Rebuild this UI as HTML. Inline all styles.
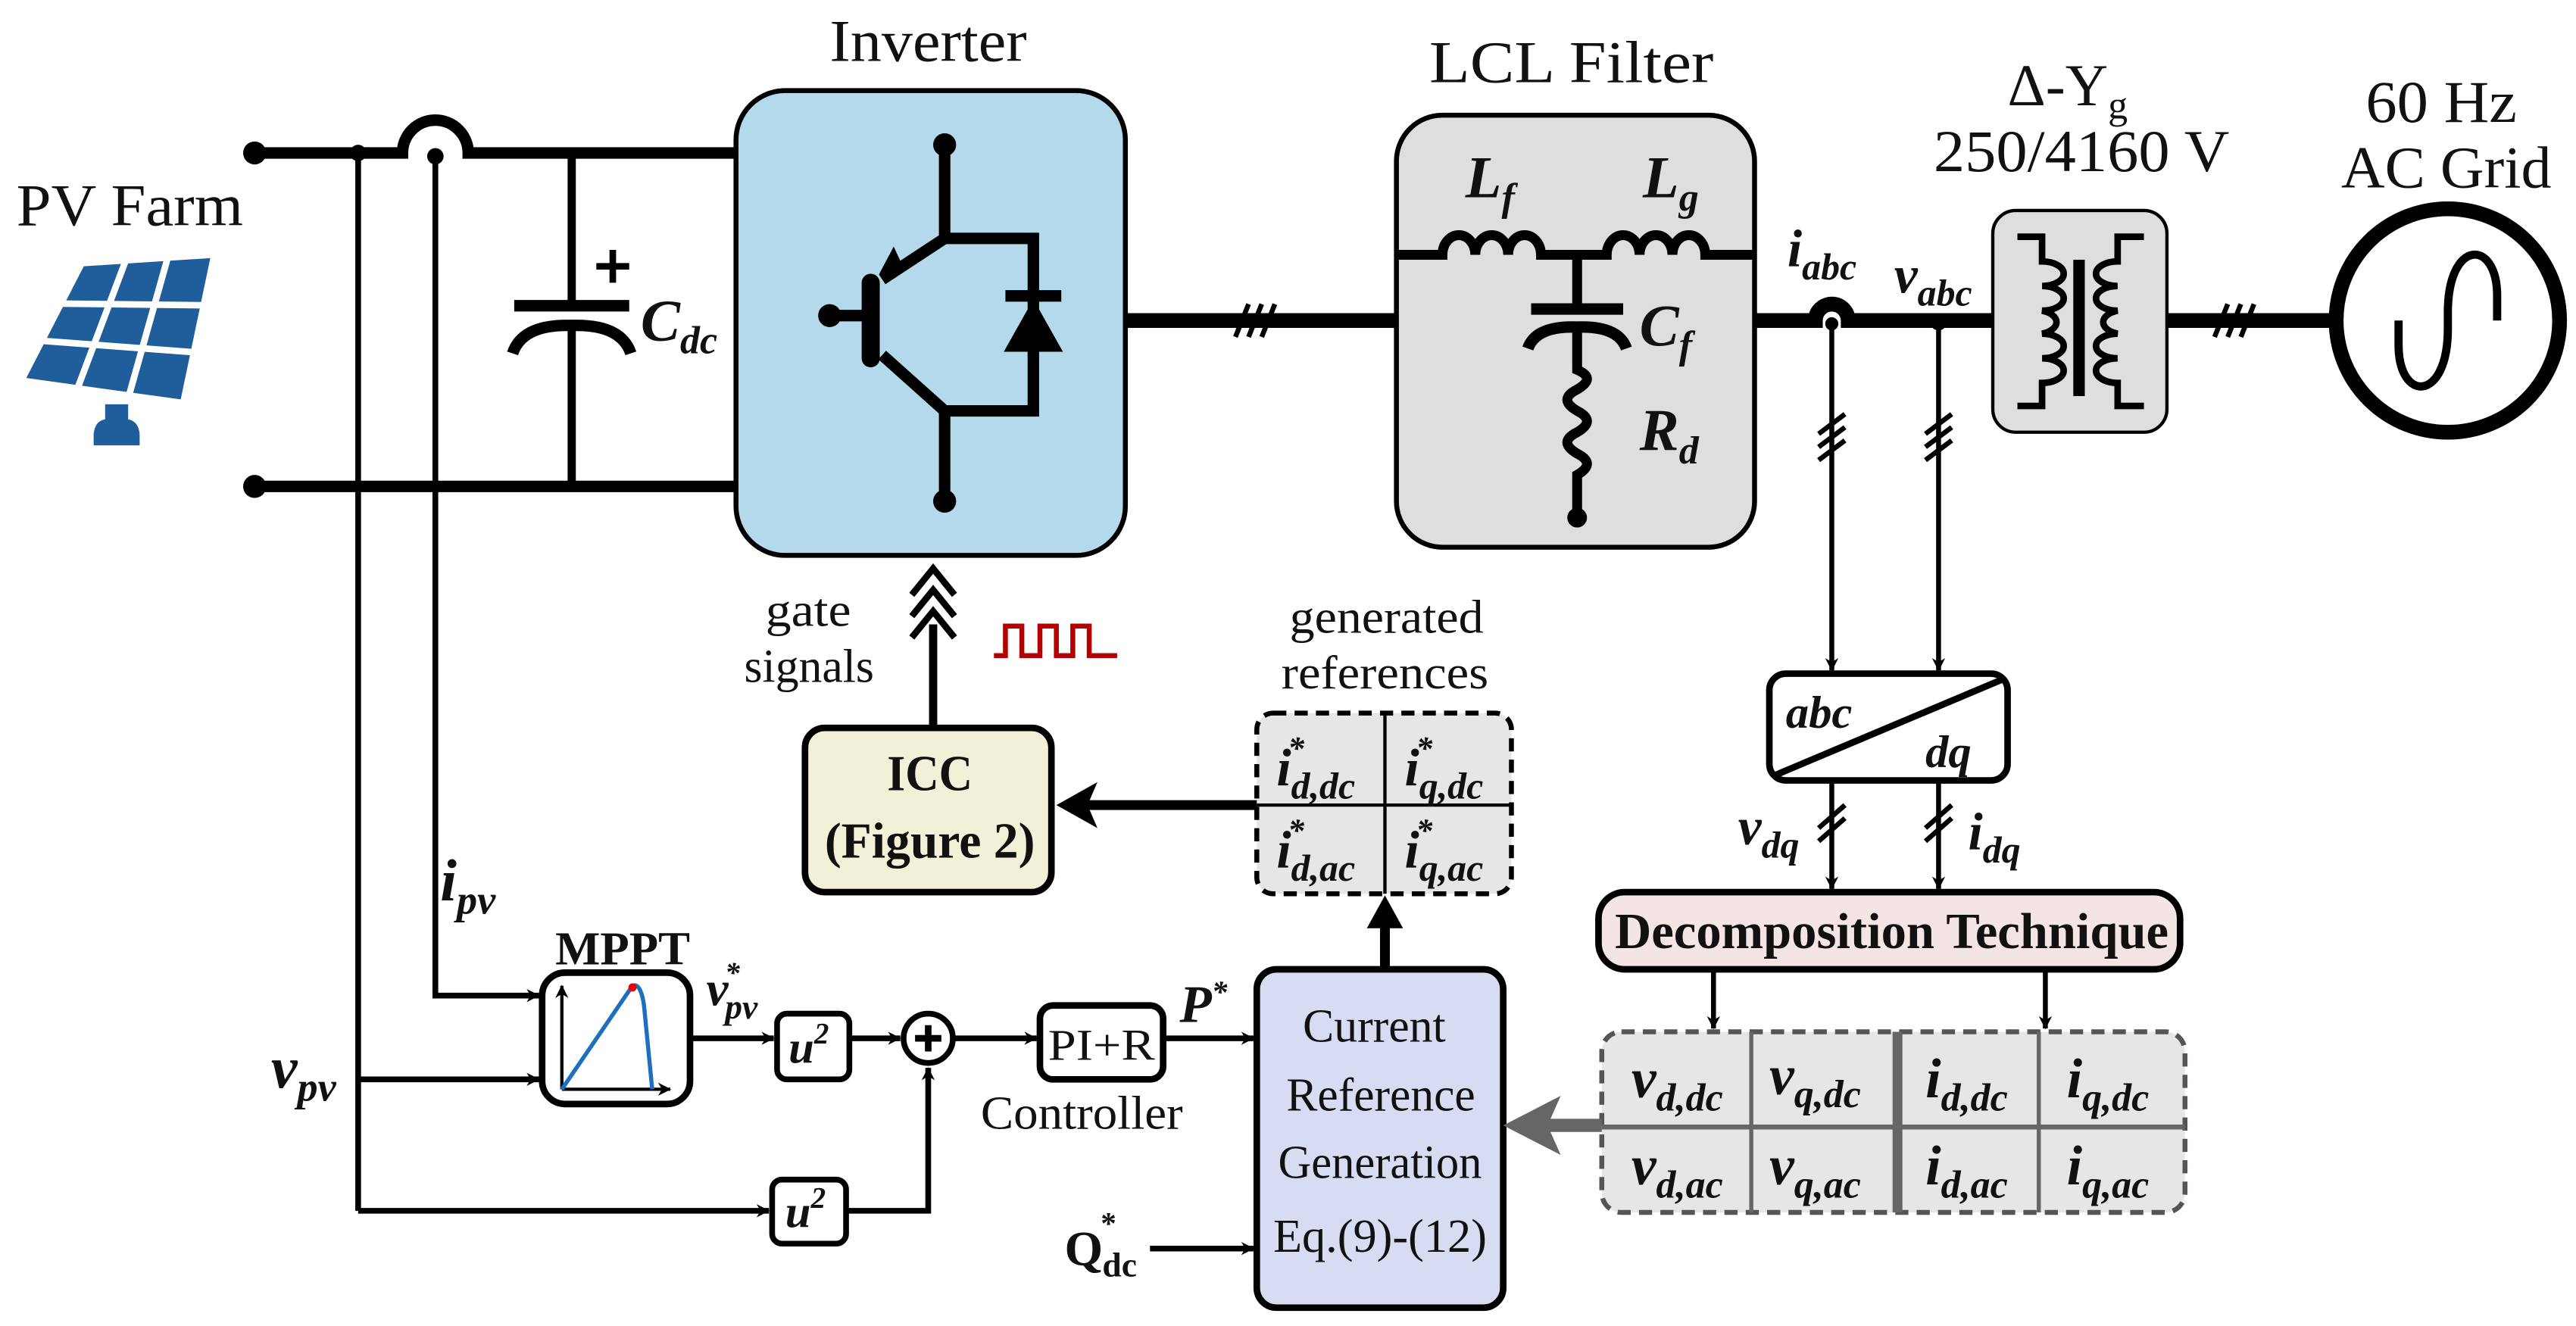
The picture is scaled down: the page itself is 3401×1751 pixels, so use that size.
<!DOCTYPE html>
<html><head><meta charset="utf-8"><style>
html,body{margin:0;padding:0;background:#fff;}
svg{display:block;}
text{font-family:"Liberation Serif","Times New Roman",serif;fill:#111;}
.bi{font-weight:bold;font-style:italic;}
.b{font-weight:bold;}
</style></head><body>
<svg width="3401" height="1751" viewBox="0 0 1568 807" xmlns="http://www.w3.org/2000/svg" font-family="Liberation Serif, serif">
<defs>
<marker id="a" viewBox="0 0 10 10" refX="9" refY="5" markerWidth="5" markerHeight="5" orient="auto" markerUnits="userSpaceOnUse" style="overflow:visible">
<path d="M0,0 L10,5 L0,10 L3,5 z" fill="#000" transform="scale(1.6) translate(-3.7,-1.9)"/>
</marker>
</defs>
<!-- PV panel -->
<polygon points="51,162 128,157 110,243 16,230" fill="#1f5e9a"/>
<g stroke="#fff" stroke-width="4">
<line x1="76.7" y1="158" x2="47.3" y2="236"/><line x1="102.3" y1="156" x2="78.7" y2="240"/>
<line x1="37" y1="184.7" x2="124" y2="185.7"/><line x1="25" y1="207.3" x2="118" y2="214.3"/>
</g>
<rect x="64" y="246" width="14" height="12" fill="#1f5e9a"/>
<path d="M57,271 L85,271 L85,264 Q84,255 76,255 L66,255 Q58,255 57,264 z" fill="#1f5e9a"/>
<text x="10" y="137" font-size="36" textLength="138" lengthAdjust="spacingAndGlyphs">PV Farm</text>

<!-- DC rails -->
<g stroke="#000" fill="none">
<path d="M155,93 L245,93 A20,20 0 0 1 285,93 L448,93" stroke-width="7"/>
<line x1="155" y1="296" x2="448" y2="296" stroke-width="7"/>
<line x1="218" y1="93" x2="218" y2="737" stroke-width="3.5"/>
<path d="M265,93 L265,606 L328,606" stroke-width="3.5" marker-end="url(#a)"/>
<line x1="348" y1="93" x2="348" y2="186" stroke-width="5"/>
<line x1="348" y1="200" x2="348" y2="296" stroke-width="5"/>
<line x1="313" y1="186" x2="383" y2="186" stroke-width="7"/>
<path d="M312,215 Q318,197 348,198 Q378,197 384,215" stroke-width="7"/>
<line x1="373" y1="152" x2="373" y2="172" stroke-width="4"/><line x1="363" y1="162" x2="383" y2="162" stroke-width="4"/>
</g>
<circle cx="155" cy="93" r="7"/><circle cx="155" cy="296" r="7"/><circle cx="218" cy="93" r="5"/><circle cx="265" cy="95" r="5"/>
<text x="390" y="207" font-size="36" class="bi">C<tspan dy="8" font-size="24">dc</tspan></text>

<!-- Inverter -->
<text x="505" y="37" font-size="36" textLength="120" lengthAdjust="spacingAndGlyphs">Inverter</text>
<rect x="448" y="55" width="237" height="283" rx="30" fill="#b4d9eb" stroke="#000" stroke-width="3"/>
<g stroke="#000" fill="none" stroke-width="7">
<line x1="575" y1="88" x2="575" y2="145"/>
<path d="M575,145 L629,145 L629,250 L575,250 L575,305"/>
<line x1="575" y1="145" x2="537" y2="170"/>
<line x1="537" y1="216" x2="575" y2="250"/>
<line x1="505" y1="192" x2="525" y2="192"/>
<line x1="612" y1="180" x2="646" y2="180"/>
</g>
<line x1="530" y1="172" x2="530" y2="218" stroke="#000" stroke-width="11" stroke-linecap="round"/>
<polygon points="535,167 544,150 550,163" fill="#000"/>
<polygon points="629,182 611,214 647,214" fill="#000"/>
<circle cx="575" cy="88" r="7"/><circle cx="575" cy="305" r="7"/><circle cx="505" cy="192" r="7"/>
<line x1="685" y1="195" x2="850" y2="195" stroke="#000" stroke-width="9"/>
<g stroke="#000" stroke-width="3"><line x1="752" y1="205" x2="760" y2="185"/><line x1="760" y1="205" x2="768" y2="185"/><line x1="768" y1="205" x2="776" y2="185"/></g>

<!-- LCL -->
<text x="870" y="50" font-size="36" textLength="173" lengthAdjust="spacingAndGlyphs">LCL Filter</text>
<rect x="850" y="70" width="218" height="263" rx="28" fill="#dedede" stroke="#000" stroke-width="3"/>
<g stroke="#000" fill="none" stroke-width="6">
<path d="M850,155 L878,155 A10,12 0 0 1 898,155 A10,12 0 0 1 918,155 A10,12 0 0 1 938,155 L978,155 A10,12 0 0 1 998,155 A10,12 0 0 1 1018,155 A10,12 0 0 1 1038,155 L1068,155"/>
<line x1="960" y1="155" x2="960" y2="185"/>
<line x1="932" y1="188" x2="988" y2="188" stroke-width="7"/>
<path d="M930,212 Q935,198 960,199 Q985,198 990,212" stroke-width="7"/>
<path d="M960,200 L960,225 Q972,230 960,237 Q948,243 960,250 Q972,256 960,263 Q948,269 960,276 Q972,282 960,289 L960,315"/>
</g>
<circle cx="960" cy="315" r="6"/>
<text x="892" y="120" font-size="36" class="bi">L<tspan dy="8" font-size="24">f</tspan></text>
<text x="1000" y="120" font-size="36" class="bi">L<tspan dy="8" font-size="24">g</tspan></text>
<text x="998" y="210" font-size="36" class="bi">C<tspan dy="8" font-size="24">f</tspan></text>
<text x="998" y="274" font-size="36" class="bi">R<tspan dy="8" font-size="24">d</tspan></text>

<!-- AC side -->
<path d="M1068,195 L1105,195 A10,10 0 0 1 1125,195 L1213,195" stroke="#000" stroke-width="9" fill="none"/>
<circle cx="1180" cy="196" r="5"/><circle cx="1115" cy="197" r="4"/>
<text x="1088" y="162" font-size="32" class="bi">i<tspan dy="8" font-size="23">abc</tspan></text>
<text x="1153" y="178" font-size="32" class="bi">v<tspan dy="8" font-size="23">abc</tspan></text>
<g stroke="#000" stroke-width="3" fill="none">
<line x1="1115" y1="197" x2="1115" y2="408" marker-end="url(#a)"/>
<line x1="1180" y1="196" x2="1180" y2="408" marker-end="url(#a)"/>
<line x1="1107" y1="264" x2="1123" y2="252"/><line x1="1107" y1="272" x2="1123" y2="260"/><line x1="1107" y1="280" x2="1123" y2="268"/>
<line x1="1172" y1="264" x2="1188" y2="252"/><line x1="1172" y1="272" x2="1188" y2="260"/><line x1="1172" y1="280" x2="1188" y2="268"/>
</g>
<text x="1222" y="64" font-size="36">Δ-Y<tspan dy="8" font-size="24">g</tspan></text>
<text x="1177" y="104" font-size="36" textLength="180" lengthAdjust="spacingAndGlyphs">250/4160 V</text>
<rect x="1213" y="128" width="106" height="135" rx="14" fill="#dedede" stroke="#000" stroke-width="2"/>
<g stroke="#000" fill="none" stroke-width="4">
<path d="M1228,144 L1243,144 L1243,159 A13,7.4 0 0 1 1243,174 A13,7.4 0 0 1 1243,189 A13,7.4 0 0 1 1243,203 A13,7.4 0 0 1 1243,218 A13,7.4 0 0 1 1243,233 L1243,247 L1228,247"/>
<path d="M1305,144 L1289,144 L1289,159 A13,7.4 0 0 0 1289,174 A13,7.4 0 0 0 1289,189 A13,7.4 0 0 0 1289,203 A13,7.4 0 0 0 1289,218 A13,7.4 0 0 0 1289,233 L1289,247 L1305,247"/>
</g>
<rect x="1262" y="158" width="7" height="83" fill="#000"/>
<line x1="1319" y1="195" x2="1422" y2="195" stroke="#000" stroke-width="9"/>
<g stroke="#000" stroke-width="3"><line x1="1348" y1="205" x2="1356" y2="185"/><line x1="1356" y1="205" x2="1364" y2="185"/><line x1="1364" y1="205" x2="1372" y2="185"/></g>
<circle cx="1490" cy="195" r="68" fill="none" stroke="#000" stroke-width="9"/>
<path d="M1460,195 L1460,210 C1460,245 1490,245 1490,200 L1490,190 C1490,145 1520,145 1520,180 L1520,195" stroke="#000" stroke-width="5" fill="none"/>
<text x="1440" y="74" font-size="36" textLength="92" lengthAdjust="spacingAndGlyphs">60 Hz</text>
<text x="1425" y="114" font-size="36" textLength="128" lengthAdjust="spacingAndGlyphs">AC Grid</text>

<!-- gate -->
<g stroke="#000" fill="none" stroke-width="4">
<line x1="568" y1="380" x2="568" y2="443" stroke-width="5"/>
<path d="M555,362 L568,346 L581,362 M555,375 L568,359 L581,375 M555,388 L568,372 L581,388"/>
</g>
<path d="M605,399 L612,399 L612,381 L622,381 L622,399 L633,399 L633,381 L643,381 L643,399 L653,399 L653,381 L663,381 L663,399 L680,399" stroke="#b30000" stroke-width="3" fill="none"/>
<text x="466" y="381" font-size="29" textLength="52" lengthAdjust="spacingAndGlyphs">gate</text>
<text x="453" y="415" font-size="29" textLength="79" lengthAdjust="spacingAndGlyphs">signals</text>
<rect x="490" y="443" width="150" height="100" rx="12" fill="#f2f0d6" stroke="#000" stroke-width="4"/>
<text x="540" y="481" font-size="31" class="b" textLength="52" lengthAdjust="spacingAndGlyphs">ICC</text>
<text x="502" y="522" font-size="31" class="b" textLength="128" lengthAdjust="spacingAndGlyphs">(Figure 2)</text>

<!-- generated references -->
<text x="785" y="385" font-size="29" textLength="118" lengthAdjust="spacingAndGlyphs">generated</text>
<text x="780" y="419" font-size="29" textLength="126" lengthAdjust="spacingAndGlyphs">references</text>
<rect x="765" y="434" width="155" height="110" rx="10" fill="#e6e6e6" stroke="#000" stroke-width="3" stroke-dasharray="8,5"/>
<line x1="843" y1="434" x2="843" y2="544" stroke="#000" stroke-width="2"/>
<line x1="765" y1="490" x2="920" y2="490" stroke="#000" stroke-width="2"/>
<g font-size="32" class="bi">
<text x="777" y="478">i<tspan font-size="20" dx="-2" dy="-16">*</tspan><tspan font-size="23" dx="-8" dy="24">d,dc</tspan></text>
<text x="855" y="478">i<tspan font-size="20" dx="-2" dy="-16">*</tspan><tspan font-size="23" dx="-8" dy="24">q,dc</tspan></text>
<text x="777" y="528">i<tspan font-size="20" dx="-2" dy="-16">*</tspan><tspan font-size="23" dx="-8" dy="24">d,ac</tspan></text>
<text x="855" y="528">i<tspan font-size="20" dx="-2" dy="-16">*</tspan><tspan font-size="23" dx="-8" dy="24">q,ac</tspan></text>
</g>
<line x1="765" y1="490" x2="660" y2="490" stroke="#000" stroke-width="6"/>
<polygon points="643,490 668,476 662,490 668,504" fill="#000"/>
<line x1="843" y1="590" x2="843" y2="560" stroke="#000" stroke-width="6"/>
<polygon points="843,545 832,565 854,565" fill="#000"/>

<!-- CRG -->
<rect x="765" y="590" width="150" height="206" rx="12" fill="#d7dcf2" stroke="#000" stroke-width="4"/>
<g font-size="29">
<text x="793" y="634" textLength="87" lengthAdjust="spacingAndGlyphs">Current</text>
<text x="783" y="676" textLength="115" lengthAdjust="spacingAndGlyphs">Reference</text>
<text x="778" y="717" textLength="124" lengthAdjust="spacingAndGlyphs">Generation</text>
<text x="775" y="762" textLength="130" lengthAdjust="spacingAndGlyphs">Eq.(9)-(12)</text>
</g>

<!-- abc/dq -->
<rect x="1077" y="410" width="145" height="65" rx="10" fill="#fff" stroke="#000" stroke-width="4"/>
<line x1="1080" y1="472" x2="1220" y2="413" stroke="#000" stroke-width="4"/>
<text x="1087" y="443" font-size="28" class="bi">abc</text>
<text x="1172" y="467" font-size="28" class="bi">dq</text>
<g stroke="#000" stroke-width="3" fill="none">
<line x1="1115" y1="475" x2="1115" y2="541" marker-end="url(#a)"/>
<line x1="1180" y1="475" x2="1180" y2="541" marker-end="url(#a)"/>
<line x1="1107" y1="504" x2="1123" y2="490"/><line x1="1107" y1="512" x2="1123" y2="498"/>
<line x1="1172" y1="504" x2="1188" y2="490"/><line x1="1172" y1="512" x2="1188" y2="498"/>
</g>
<text x="1058" y="514" font-size="32" class="bi">v<tspan dy="8" font-size="23">dq</tspan></text>
<text x="1198" y="517" font-size="32" class="bi">i<tspan dy="8" font-size="23">dq</tspan></text>
<rect x="973" y="543" width="354" height="47" rx="16" fill="#f5e4e4" stroke="#000" stroke-width="4"/>
<text x="983" y="577" font-size="31" class="b" textLength="337" lengthAdjust="spacingAndGlyphs">Decomposition Technique</text>
<g stroke="#000" stroke-width="3"><line x1="1043" y1="590" x2="1043" y2="626" marker-end="url(#a)"/><line x1="1245" y1="590" x2="1245" y2="626" marker-end="url(#a)"/></g>

<!-- table -->
<rect x="975" y="628" width="355" height="110" rx="12" fill="#e6e6e6" stroke="#555" stroke-width="3" stroke-dasharray="8,5"/>
<g stroke="#666"><line x1="1066" y1="628" x2="1066" y2="738" stroke-width="2.5"/><line x1="1155" y1="628" x2="1155" y2="738" stroke-width="6"/><line x1="1241" y1="628" x2="1241" y2="738" stroke-width="2.5"/><line x1="975" y1="686" x2="1330" y2="686" stroke-width="3"/></g>
<g font-size="34" class="bi">
<text x="993" y="668">v<tspan dy="8" font-size="24">d,dc</tspan></text>
<text x="1077" y="666">v<tspan dy="8" font-size="24">q,dc</tspan></text>
<text x="1172" y="668">i<tspan dy="8" font-size="24">d,dc</tspan></text>
<text x="1258" y="668">i<tspan dy="8" font-size="24">q,dc</tspan></text>
<text x="993" y="721">v<tspan dy="8" font-size="24">d,ac</tspan></text>
<text x="1077" y="721">v<tspan dy="8" font-size="24">q,ac</tspan></text>
<text x="1172" y="721">i<tspan dy="8" font-size="24">d,ac</tspan></text>
<text x="1258" y="721">i<tspan dy="8" font-size="24">q,ac</tspan></text>
</g>
<line x1="975" y1="685" x2="935" y2="685" stroke="#666" stroke-width="8"/>
<polygon points="915,685 950,667 942,685 950,703" fill="#666"/>

<!-- MPPT chain -->
<text x="338" y="587" font-size="29" class="b" textLength="82" lengthAdjust="spacingAndGlyphs">MPPT</text>
<rect x="330" y="592" width="90" height="80" rx="14" fill="#fff" stroke="#000" stroke-width="4"/>
<g stroke="#000" stroke-width="2" fill="none">
<line x1="342" y1="663" x2="342" y2="600" marker-end="url(#a)"/>
<line x1="342" y1="663" x2="408" y2="663" marker-end="url(#a)"/>
</g>
<path d="M342,663 L385,600 Q390,598 392,612 L397,663" stroke="#1f6fc0" stroke-width="2.5" fill="none"/>
<circle cx="385" cy="601" r="2.5" fill="#e00"/>
<text x="165" y="662" font-size="36" class="bi">v<tspan dy="8" font-size="25">pv</tspan></text>
<text x="268" y="548" font-size="36" class="bi">i<tspan dy="8" font-size="25">pv</tspan></text>
<text x="430" y="612" font-size="30" class="bi">v<tspan font-size="18" dx="-2" dy="-14">*</tspan><tspan font-size="21" dx="-9" dy="22">pv</tspan></text>
<g stroke="#000" stroke-width="3.5" fill="none">
<line x1="218" y1="657" x2="328" y2="657" marker-end="url(#a)"/>
<line x1="420" y1="632" x2="471" y2="632" marker-end="url(#a)"/>
<line x1="517" y1="632" x2="548" y2="632" marker-end="url(#a)"/>
<line x1="580" y1="632" x2="631" y2="632" marker-end="url(#a)"/>
<line x1="708" y1="632" x2="763" y2="632" marker-end="url(#a)"/>
<line x1="218" y1="737" x2="468" y2="737" marker-end="url(#a)"/>
<path d="M515,737 L565,737 L565,650" marker-end="url(#a)"/>
<line x1="700" y1="760" x2="763" y2="760" marker-end="url(#a)"/>
</g>
<rect x="473" y="617" width="44" height="40" rx="6" fill="#fff" stroke="#000" stroke-width="3.5"/>
<text x="480" y="647" font-size="28" class="bi" fill="#101c4c">u<tspan dy="-12" font-size="18">2</tspan></text>
<rect x="470" y="718" width="45" height="39" rx="6" fill="#fff" stroke="#000" stroke-width="3.5"/>
<text x="478" y="747" font-size="28" class="bi">u<tspan dy="-12" font-size="18">2</tspan></text>
<circle cx="565" cy="632" r="15" fill="#fff" stroke="#000" stroke-width="3.5"/>
<line x1="557" y1="632" x2="573" y2="632" stroke="#000" stroke-width="4"/><line x1="565" y1="624" x2="565" y2="640" stroke="#000" stroke-width="4"/>
<rect x="633" y="612" width="75" height="45" rx="8" fill="#fff" stroke="#000" stroke-width="4"/>
<text x="638" y="645" font-size="27" textLength="65" lengthAdjust="spacingAndGlyphs">PI+R</text>
<text x="597" y="687" font-size="29" textLength="123" lengthAdjust="spacingAndGlyphs">Controller</text>
<text x="718" y="622" font-size="32" class="bi">P<tspan dy="-12" font-size="19">*</tspan></text>
<text x="648" y="770" font-size="30" class="b">Q</text>
<text x="670" y="751" font-size="19" class="b">*</text>
<text x="671" y="777" font-size="21" class="b">dc</text>
</svg>
</body></html>
